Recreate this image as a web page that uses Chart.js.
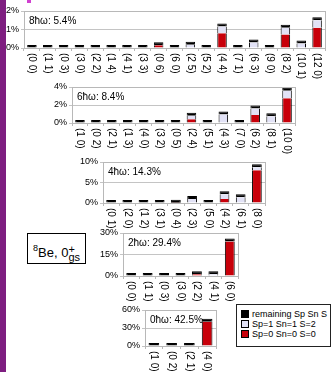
<!DOCTYPE html>
<html>
<head>
<meta charset="utf-8">
<script src="https://cdn.jsdelivr.net/npm/chart.js@4"></script>
<style>
  html, body { margin: 0; padding: 0; background: #fff; }
  body { width: 333px; height: 375px; position: relative; overflow: hidden; font-family: "Liberation Sans", Arial, sans-serif; }
  .stripe { position: absolute; left: 0; top: 0; width: 6px; height: 372px; background: #7e1e80; z-index: 5; }
  .stripe2 { position: absolute; left: 27px; top: 0; width: 4px; height: 3px; background: #d040d0; z-index: 5; }
  canvas { position: absolute; }
  .nucleus { position: absolute; left: 27px; top: 233px; width: 57px; height: 29px; border: 1px solid #000; font-size: 13px; line-height: 29px; text-align: center; }
  .nucleus sup.a { font-size: 9px; vertical-align: 6px; }
  .pm { display: inline-block; vertical-align: -4px; line-height: 8px; font-size: 11px; text-align: left; }
  .legend { position: absolute; left: 236px; top: 304px; width: 93px; height: 41px; border: 1px solid #222; font-size: 9px; }
  .legend div { position: absolute; left: 4px; height: 10px; line-height: 10px; white-space: nowrap; }
  .legend span { display: inline-block; width: 6px; height: 6px; border: 1px solid #000; margin-right: 3px; vertical-align: -1px; }
</style>
</head>
<body>
<div class="stripe"></div>
<div class="stripe2"></div>
<div class="nucleus"><sup class="a">8</sup>Be, 0<span class="pm">+<br>gs</span></div>
<div class="legend">
  <div style="top:4px"><span style="background:#000"></span>remaining Sp Sn S</div>
  <div style="top:14px"><span style="background:#e2e2f6"></span>Sp=1 Sn=1 S=2</div>
  <div style="top:24px"><span style="background:#c8000a"></span>Sp=0 Sn=0 S=0</div>
</div>
<script>
// 8 hbar omega
const labels8 = ['(0 0)', '(1 1)', '(0 3)', '(3 0)', '(2 2)', '(1 4)', '(4 1)', '(3 3)', '(0 6)', '(6 0)', '(2 5)', '(5 2)', '(4 4)', '(7 1)', '(6 3)', '(9 0)', '(8 2)', '(10 1)', '(12 0)']
const red8 = [0, 0, 0, 0, 0, 0, 0, 0, 0.15, 0, 0, 0, 0.8, 0, 0, 0, 0.73, 0, 1.1]
const light8 = [0, 0, 0, 0, 0, 0, 0, 0, 0, 0, 0.17, 0, 0.36, 0, 0.3, 0, 0.36, 0.24, 0.4]
const rest8 = [0.03, 0.03, 0.03, 0.03, 0.03, 0.03, 0.03, 0.05, 0.05, 0.03, 0.06, 0.06, 0.07, 0.05, 0.12, 0.03, 0.08, 0.12, 0.08]

// 6 hbar omega
const labels6 = ['(1 0)', '(0 2)', '(2 1)', '(1 3)', '(4 0)', '(3 2)', '(0 5)', '(2 4)', '(5 1)', '(4 3)', '(7 0)', '(6 2)', '(8 1)', '(10 0)']
const red6 = [0, 0, 0, 0, 0, 0, 0, 0.42, 0, 0, 0, 0.88, 0, 2.75]
const light6 = [0, 0, 0, 0, 0, 0, 0, 0.38, 0, 0.95, 0, 0.72, 0.75, 0.82]
const rest6 = [0.05, 0.05, 0.05, 0.05, 0.05, 0.05, 0.05, 0.1, 0.05, 0.12, 0.05, 0.15, 0.12, 0.15]

// 4 hbar omega
const labels4 = ['(0 1)', '(2 0)', '(1 2)', '(3 1)', '(0 4)', '(2 3)', '(5 0)', '(4 2)', '(6 1)', '(8 0)']
const red4 = [0, 0, 0, 0, 0.05, 0, 0, 0.95, 0, 8.0]
const light4 = [0, 0, 0, 0, 0, 1.0, 0, 1.2, 1.4, 0.7]
const rest4 = [0.05, 0.05, 0.07, 0.1, 0.12, 0.3, 0.1, 0.4, 0.45, 0.4]

// 2 hbar omega
const labels2 = ['(0 0)', '(1 1)', '(0 3)', '(3 0)', '(2 2)', '(4 1)', '(6 0)']
const red2 = [0, 0, 0, 0, 1.2, 0, 24]
const light2 = [0, 0, 0, 0, 0, 1.2, 0]
const rest2 = [0.3, 0.3, 0.3, 0.3, 1.2, 1.2, 0.5]

// 0 hbar omega
const labels0 = ['(1 0)', '(0 2)', '(2 1)', '(4 0)']
const red0 = [0, 0, 0, 40.5]
const light0 = [0, 0, 0, 0]
const rest0 = [0.5, 0.5, 1.2, 0.3]

const panels = [
  { title: '8ħω: 5.4%', labels: labels8, red: red8, light: light8, rest: rest8, max: 2, box: [24, 325, 11, 48] },
  { title: '6ħω: 8.4%', labels: labels6, red: red6, light: light6, rest: rest6, max: 4, box: [72, 295, 87, 123] },
  { title: '4ħω: 14.3%', labels: labels4, red: red4, light: light4, rest: rest4, max: 10, box: [103, 265, 162, 203] },
  { title: '2ħω: 29.4%', labels: labels2, red: red2, light: light2, rest: rest2, max: 30, box: [123, 238, 233, 276] },
  { title: '0ħω: 42.5%', labels: labels0, red: red0, light: light0, rest: rest0, max: 60, box: [145, 216, 310, 346] },
]

const FONT = '"Liberation Sans", Arial, sans-serif'
const AXIS_W = 30
const LABEL_H = 34
const PAD_TOP = 8
const PAD_RIGHT = 3

const frame = {
  id: 'frame',
  afterDraw(chart, args, opts) {
    const { ctx, chartArea: a } = chart
    const x = chart.scales.x
    ctx.save()
    ctx.strokeStyle = '#b8b8b8'
    ctx.lineWidth = 1
    ctx.strokeRect(Math.round(a.left) + 0.5, Math.round(a.top) + 0.5, Math.round(a.right - a.left), Math.round(a.bottom - a.top))
    // title in the plot corner
    ctx.fillStyle = '#000'
    ctx.font = '10px ' + FONT
    ctx.textBaseline = 'alphabetic'
    ctx.textAlign = 'left'
    ctx.fillText(opts.title, a.left + 5, a.top + 13)
    // category labels, turned clockwise
    chart.data.labels.forEach((lab, i) => {
      ctx.save()
      ctx.translate(x.getPixelForValue(i), a.bottom + 5)
      ctx.rotate(Math.PI / 2)
      ctx.textBaseline = 'middle'
      ctx.fillText(lab, 0, 0)
      ctx.restore()
    })
    ctx.restore()
  },
}

panels.forEach(p => {
  const [L, R, T, B] = p.box
  const cv = document.createElement('canvas')
  cv.width = R - L + AXIS_W + PAD_RIGHT
  cv.height = B - T + PAD_TOP + LABEL_H
  cv.style.left = (L - AXIS_W) + 'px'
  cv.style.top = (T - PAD_TOP) + 'px'
  document.body.appendChild(cv)

  new Chart(cv.getContext('2d'), {
    type: 'bar',
    data: {
      labels: p.labels,
      datasets: [
        { label: 'Sp=0 Sn=0 S=0', data: p.red, backgroundColor: '#c8000a', borderColor: '#000', borderWidth: { left: 1, right: 1, top: 0, bottom: 0 } },
        { label: 'Sp=1 Sn=1 S=2', data: p.light, backgroundColor: '#e2e2f6', borderColor: '#000', borderWidth: { left: 1, right: 1, top: 0, bottom: 0 } },
        { label: 'remaining Sp Sn S', data: p.rest, backgroundColor: '#000', borderColor: '#000', borderWidth: 1, minBarLength: 3 },
      ],
    },
    options: {
      responsive: false,
      animation: false,
      devicePixelRatio: 1,
      barPercentage: 0.6,
      categoryPercentage: 1,
      layout: { padding: { top: PAD_TOP, right: PAD_RIGHT, left: 0, bottom: 0 } },
      plugins: { legend: { display: false }, tooltip: { enabled: false }, frame: { title: p.title } },
      scales: {
        x: {
          stacked: true,
          ticks: { display: false },
          grid: { drawOnChartArea: false, drawTicks: true, tickLength: 3, color: '#b8b8b8' },
          border: { color: '#b8b8b8' },
          afterFit: s => { s.height = LABEL_H; s.paddingLeft = 0; s.paddingRight = 0 },
        },
        y: {
          stacked: true,
          min: 0,
          max: p.max,
          ticks: { stepSize: p.max / 2, padding: 2, color: '#000', font: { size: 9, family: FONT }, callback: v => v + '%' },
          grid: { color: '#c4c4c4', tickLength: 3 },
          border: { color: '#b8b8b8' },
          afterFit: s => { s.width = AXIS_W; s.paddingTop = 0; s.paddingBottom = 0 },
        },
      },
    },
    plugins: [frame],
  })
})
</script>
</body>
</html>
